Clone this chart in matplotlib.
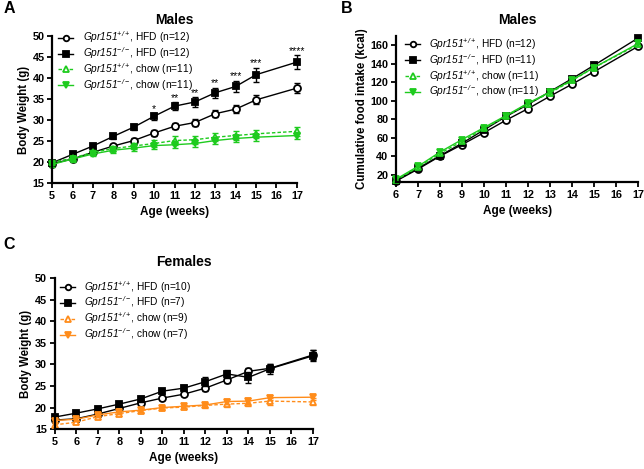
import numpy as np
import matplotlib
matplotlib.use('Agg')
import matplotlib.pyplot as plt

plt.rcParams['font.family'] = ['Liberation Sans', 'DejaVu Sans']
plt.rcParams['mathtext.fontset'] = 'custom'
plt.rcParams['mathtext.it'] = 'Liberation Sans:italic'
plt.rcParams['mathtext.rm'] = 'Liberation Sans:italic'

GREEN = '#1ecb1e'
ORANGE = '#ff8c1a'

# A: male body weight
weeks_a = [5, 6, 7, 8, 9, 10, 11, 12, 13, 14, 15, 17]
a_wt_hfd = [19.6, 20.7, 22.3, 23.8, 25.1, 26.9, 28.5, 29.4, 31.5, 32.6, 34.8, 37.6]
a_wt_hfd_err = [0.5, 0.5, 0.5, 0.5, 0.6, 0.6, 0.7, 0.8, 0.9, 1.0, 1.1, 1.2]
a_ko_hfd = [19.8, 21.8, 23.8, 26.1, 28.3, 30.9, 33.3, 34.3, 36.5, 38.0, 40.8, 43.8]
a_ko_hfd_err = [0.5, 0.5, 0.5, 0.6, 0.7, 0.8, 1.0, 1.1, 1.2, 1.4, 1.7, 1.6]
a_wt_chow = [19.9, 20.9, 22.3, 23.2, 23.8, 24.4, 25.1, 25.3, 25.9, 26.3, 26.7, 27.3]
a_wt_chow_err = [0.6, 0.6, 0.6, 0.7, 0.8, 0.9, 1.0, 1.0, 1.0, 1.0, 1.0, 1.0]
a_ko_chow = [19.4, 20.7, 21.9, 22.8, 23.3, 23.9, 24.1, 24.4, 25.1, 25.6, 25.9, 26.3]
a_ko_chow_err = [0.6, 0.6, 0.6, 0.6, 0.7, 0.7, 0.8, 0.8, 0.8, 0.8, 0.8, 0.8]
a_stars = {10: '*', 11: '**', 12: '**', 13: '**', 14: '***', 15: '***', 17: '****'}

# B: male cumulative food intake
weeks_b = [6, 7, 8, 9, 10, 11, 12, 13, 14, 15, 17]
b_wt_hfd = [13, 26, 40, 52.5, 65.5, 79, 91.5, 105, 118, 131.5, 159]
b_ko_hfd = [13.5, 27, 40.5, 54, 68.5, 83, 96, 110, 124, 138.5, 168]
b_wt_chow = [14, 28, 43, 56, 70, 83, 97, 108.5, 122, 136, 161]
b_ko_chow = [15, 29, 44.5, 58, 71, 84, 97.5, 109.5, 122.5, 136, 162]

# C: female body weight
weeks_c = [5, 6, 7, 8, 9, 10, 11, 12, 13, 14, 15, 17]
c_wt_hfd = [17.1, 17.4, 18.5, 19.8, 21.1, 22.2, 23.1, 24.5, 26.4, 28.4, 29.1, 32.2]
c_wt_hfd_err = [0.4, 0.4, 0.4, 0.5, 0.5, 0.5, 0.5, 0.6, 0.7, 0.8, 0.9, 1.2]
c_ko_hfd = [17.8, 18.7, 19.7, 20.8, 22.0, 23.8, 24.5, 26.0, 27.8, 27.0, 29.0, 32.0]
c_ko_hfd_err = [0.5, 0.6, 0.6, 0.6, 0.6, 0.6, 0.7, 1.0, 1.0, 1.2, 1.2, 1.3]
c_wt_chow = [16.0, 16.6, 17.9, 18.6, 19.3, 19.9, 20.1, 20.5, 20.8, 21.0, 21.5, 21.3]
c_wt_chow_err = [0.5, 0.5, 0.5, 0.5, 0.5, 0.5, 0.5, 0.6, 0.7, 0.7, 0.8, 0.8]
c_ko_chow = [17.0, 17.3, 18.3, 19.0, 19.4, 20.0, 20.3, 20.6, 21.4, 21.5, 22.3, 22.4]
c_ko_chow_err = [0.4, 0.4, 0.4, 0.4, 0.4, 0.4, 0.4, 0.5, 0.6, 0.6, 0.6, 0.6]

WT = r'$Gpr151^{+/+}$'
KO = r'$Gpr151^{-/-}$'
DASH = (0, (2.5, 1.5))


def series(ax, x, y, err, marker, color, mfc, ls, label):
    # draws one group, returns the plain line for the legend
    if err is not None:
        ax.errorbar(x, y, yerr=err, fmt='none', ecolor=color, elinewidth=1.0,
                    capsize=2.5, capthick=1.0, clip_on=False)
    line, = ax.plot(x, y, marker=marker, color=color, mfc=mfc, mec=color,
                    ms=5, mew=1.3, lw=1.0, ls=ls, label=label, clip_on=False)
    return line


def style(ax, title, ylabel, handles, anchor):
    for s in ['top', 'right']:
        ax.spines[s].set_visible(False)
    for s in ['left', 'bottom']:
        ax.spines[s].set_linewidth(1.6)
    ax.tick_params(width=1.3, length=3.5, labelsize=7.8, pad=2)
    for lab in ax.get_xticklabels() + ax.get_yticklabels():
        lab.set_fontweight('bold')
    ax.set_title(title, fontsize=10, fontweight='bold', pad=9)
    ax.set_ylabel(ylabel, fontsize=8.3, fontweight='bold', labelpad=2)
    ax.set_xlabel('Age (weeks)', fontsize=8.5, fontweight='bold', labelpad=4)
    ax.legend(handles=handles, loc='upper left', frameon=False, fontsize=7.3,
              handlelength=1.5, handletextpad=0.9, borderpad=0, markerscale=0.8,
              borderaxespad=0, labelspacing=0.0, bbox_to_anchor=anchor)


fig = plt.figure(figsize=(6.44, 4.69), dpi=100)

# Panel A
ax = fig.add_axes([0.081, 0.610, 0.380, 0.313])
h = [series(ax, weeks_a, a_wt_hfd, a_wt_hfd_err, 'o', 'black', 'white', '-', WT + ', HFD (n=12)'),
     series(ax, weeks_a, a_ko_hfd, a_ko_hfd_err, 's', 'black', 'black', '-', KO + ', HFD (n=12)'),
     series(ax, weeks_a, a_wt_chow, a_wt_chow_err, '^', GREEN, 'white', DASH, WT + ', chow (n=11)'),
     series(ax, weeks_a, a_ko_chow, a_ko_chow_err, 'v', GREEN, GREEN, '-', KO + ', chow (n=11)')]
for wk, st in a_stars.items():
    i = weeks_a.index(wk)
    ax.text(wk, a_ko_hfd[i] + a_ko_hfd_err[i] - 0.2, st, ha='center', va='bottom',
            fontsize=7.5)
ax.set_xlim(5, 17)
ax.set_ylim(15, 50)
ax.set_xticks(range(5, 18))
ax.set_yticks(range(15, 51, 5))
style(ax, 'Males', 'Body Weight (g)', h, (0.025, 1.045))
fig.text(0.006, 0.981, 'A', fontsize=11.5, fontweight='bold', va='center')

# Panel B
ax = fig.add_axes([0.615, 0.612, 0.376, 0.311])
h = [series(ax, weeks_b, b_wt_hfd, None, 'o', 'black', 'white', '-', WT + ', HFD (n=12)'),
     series(ax, weeks_b, b_ko_hfd, None, 's', 'black', 'black', '-', KO + ', HFD (n=11)'),
     series(ax, weeks_b, b_wt_chow, None, '^', GREEN, 'white', DASH, WT + ', chow (n=11)'),
     series(ax, weeks_b, b_ko_chow, None, 'v', GREEN, GREEN, '-', KO + ', chow (n=11)')]
ax.set_xlim(6, 17)
ax.set_ylim(12, 170)
ax.set_xticks(range(6, 18))
ax.set_yticks(range(20, 161, 20))
style(ax, 'Males', 'Cumulative food intake (kcal)', h, (0.037, 1.0))
fig.text(0.530, 0.981, 'B', fontsize=11.5, fontweight='bold', va='center')

# Panel C
ax = fig.add_axes([0.085, 0.085, 0.401, 0.322])
h = [series(ax, weeks_c, c_wt_hfd, c_wt_hfd_err, 'o', 'black', 'white', '-', WT + ', HFD (n=10)'),
     series(ax, weeks_c, c_ko_hfd, c_ko_hfd_err, 's', 'black', 'black', '-', KO + ', HFD (n=7)'),
     series(ax, weeks_c, c_wt_chow, c_wt_chow_err, '^', ORANGE, 'white', DASH, WT + ', chow (n=9)'),
     series(ax, weeks_c, c_ko_chow, c_ko_chow_err, 'v', ORANGE, ORANGE, '-', KO + ', chow (n=7)')]
ax.set_xlim(5, 17)
ax.set_ylim(15, 50)
ax.set_xticks(range(5, 18))
ax.set_yticks(range(15, 51, 5))
style(ax, 'Females', 'Body Weight (g)', h, (0.02, 0.995))
fig.text(0.006, 0.478, 'C', fontsize=11.5, fontweight='bold', va='center')

fig.savefig('out.png', dpi=100)
